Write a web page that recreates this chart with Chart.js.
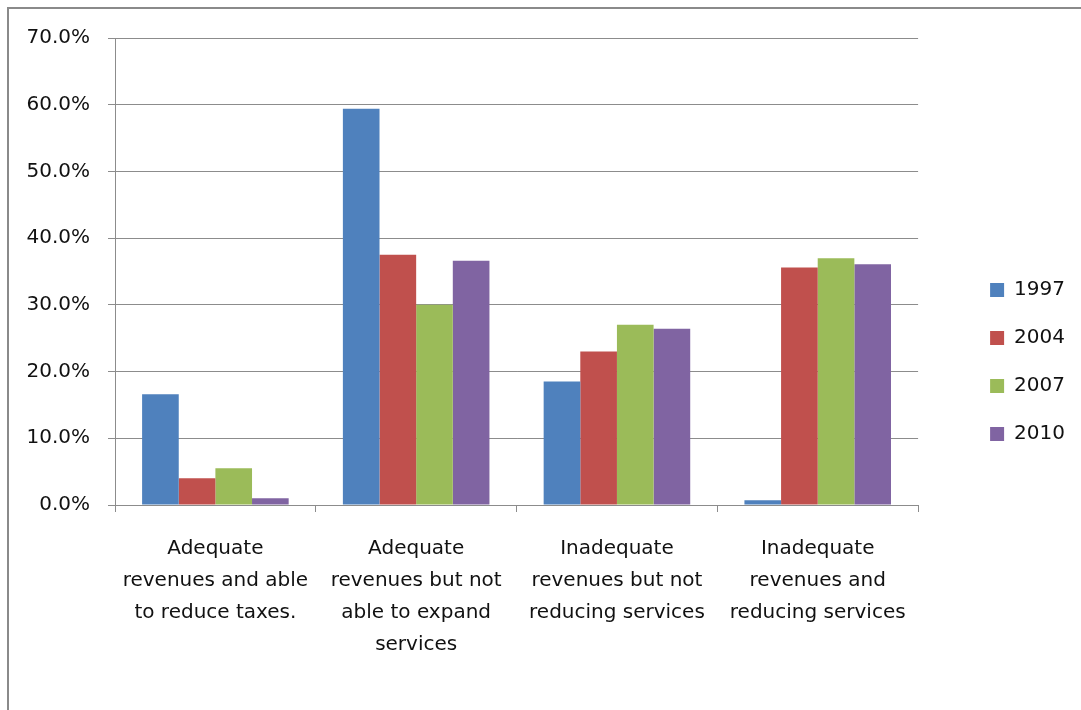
<!DOCTYPE html>
<html lang="en">
<head>
  <meta charset="UTF-8" />
  <title>Revenues and services</title>
  <script src="https://cdn.jsdelivr.net/npm/chart.js"></script>
  <style>
    body {
      margin: 0;
      background: #fff;
      overflow: hidden;
    }
    .frame {
      position: absolute;
      left: 7px;
      top: 7px;
      width: 1200px;
      height: 800px;
      border-top: 2px solid #8a8a8a;
      border-left: 2px solid #8a8a8a;
    }
    .wrap {
      position: absolute;
      left: 0;
      top: 0;
      width: 1081px;
      height: 710px;
    }
  </style>
</head>
<body>
  <div class="frame"></div>
  <div class="wrap"><canvas id="chart"></canvas></div>

  <script>
    const categories = [
      ["Adequate", "revenues and able", "to reduce taxes."],
      ["Adequate", "revenues but not", "able to expand", "services"],
      ["Inadequate", "revenues but not", "reducing services"],
      ["Inadequate", "revenues and", "reducing services"]
    ];
    const years = ["1997", "2004", "2007", "2010"];
    const values1997 = [16.6, 59.4, 18.5, 0.7];
    const values2004 = [4.0, 37.5, 23.0, 35.6];
    const values2007 = [5.5, 30.0, 27.0, 37.0];
    const values2010 = [1.0, 36.6, 26.4, 36.1];
    const colors = ["#4F81BD", "#C0504D", "#9BBB59", "#8064A2"];

    const series = [values1997, values2004, values2007, values2010];
    const gridColor = "#8c8c8c";
    const font = { family: "DejaVu Sans", size: 20 };

    new Chart(document.getElementById("chart"), {
      type: "bar",
      data: {
        labels: categories,
        datasets: series.map((vals, i) => ({
          label: years[i],
          data: vals,
          backgroundColor: colors[i],
          borderWidth: 0,
          categoryPercentage: 0.73,
          barPercentage: 1.0
        }))
      },
      options: {
        responsive: true,
        maintainAspectRatio: false,
        animation: false,
        layout: { padding: { top: 38, right: 6, bottom: 24, left: 0 } },
        plugins: {
          tooltip: { enabled: false },
          legend: {
            position: "right",
            labels: {
              boxWidth: 14,
              boxHeight: 14,
              padding: 28,
              color: "#111",
              font: font
            }
          }
        },
        scales: {
          x: {
            grid: {
              offset: true,
              drawOnChartArea: false,
              drawTicks: true,
              tickLength: 7,
              color: gridColor
            },
            border: { color: gridColor, width: 1 },
            ticks: {
              color: "#111",
              padding: 21,
              maxRotation: 0,
              autoSkip: false,
              font: { family: "DejaVu Sans", size: 20, lineHeight: 1.6 }
            },
            afterFit: s => { s.height = 181; }
          },
          y: {
            min: 0,
            max: 70,
            grid: { color: gridColor, tickLength: 7, lineWidth: 1 },
            border: { color: gridColor, width: 1 },
            ticks: {
              stepSize: 10,
              color: "#111",
              padding: 18,
              font: font,
              callback: v => v.toFixed(1) + "%"
            },
            afterFit: s => { s.width = 115; }
          },
          gap: {
            position: "right",
            display: true,
            grid: { display: false },
            border: { display: false },
            ticks: { display: false },
            afterFit: s => { s.width = 44; }
          }
        }
      }
    });
  </script>
</body>
</html>
